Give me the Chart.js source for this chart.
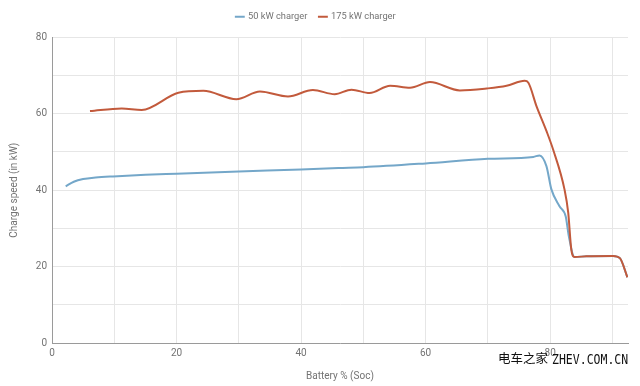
<!DOCTYPE html>
<html>
<head>
<meta charset="utf-8">
<script src="https://cdn.jsdelivr.net/npm/chart.js@4/dist/chart.umd.min.js"></script>
<style>
  html, body { margin: 0; padding: 0; background: #fff; }
  #wrap { position: relative; width: 640px; height: 386px; }
  #wm { position: absolute; left: 498px; top: 348px; color: #111; white-space: nowrap; }
  #wm .cn { font-family: "Noto Sans CJK SC", sans-serif; font-size: 12.5px; }
  #wm .en { font-family: "DejaVu Sans Mono", monospace; font-size: 11.5px; display: inline-block; transform: scaleY(1.2); margin-left: 4px; }
</style>
</head>
<body>
<div id="wrap">
  <canvas id="c" width="640" height="386"></canvas>
  <div id="wm"><span class="cn">电车之家</span><span class="en">ZHEV.COM.CN</span></div>
</div>
<script>
const seriesNames = ["50 kW charger", "175 kW charger"];
const axisTitles = { x: "Battery % (Soc)", y: "Charge speed (in kW)" };

const soc50 = [2.2, 3.5, 5.0, 7.0, 9.8, 15, 20, 30, 40, 46, 50, 60, 70, 77.3, 78.3, 79.4, 80.2, 81.5, 82.5, 83.0, 83.9, 85.8, 90.1, 91.2, 92.4];
const kw50  = [41.0, 42.2, 42.9, 43.3, 43.6, 44.0, 44.3, 44.9, 45.4, 45.8, 46.0, 47.0, 48.2, 48.7, 49.1, 46.3, 40.2, 35.8, 33.1, 27.9, 22.5, 22.7, 22.8, 22.2, 17.2];

const soc175 = [6.1, 11.2, 14.4, 20.3, 24.3, 29.6, 33.4, 37.9, 41.9, 45.4, 48.1, 51.0, 54.3, 57.5, 60.7, 65.5, 69.8, 73.0, 75.9, 76.5, 77.8, 79.4, 80.5, 82.3, 82.9, 83.4, 83.9, 85.8, 90.1, 91.2, 92.4];
const kw175  = [60.7, 61.4, 61.0, 65.5, 66.0, 63.8, 65.8, 64.5, 66.2, 65.1, 66.3, 65.4, 67.3, 66.8, 68.3, 66.1, 66.6, 67.3, 68.6, 68.1, 62.0, 55.5, 50.5, 40.2, 34.1, 24.4, 22.5, 22.7, 22.8, 22.2, 17.2];

const xTicks = [0, 20, 40, 60, 80];
const yTicks = [0, 20, 40, 60, 80];

const toPts = (xs, ys) => xs.map((x, i) => ({ x: x, y: ys[i] }));

const gridColor = "#e6e6e6";
const textColor = "#737373";

const legendSpace = {
  id: "legendSpace",
  beforeLayout(chart) {
    const lg = chart.legend;
    if (lg && !lg._patched) {
      const orig = lg.fit;
      lg.fit = function () { orig.call(this); this.height += 6; };
      lg._patched = true;
    }
  }
};

new Chart(document.getElementById("c"), {
  type: "line",
  data: {
    datasets: [
      { label: seriesNames[0], data: toPts(soc50, kw50), borderColor: "#74a7c9", backgroundColor: "#74a7c9", borderWidth: 2, pointRadius: 0, cubicInterpolationMode: "monotone", order: 2 },
      { label: seriesNames[1], data: toPts(soc175, kw175), borderColor: "#c25a3c", backgroundColor: "#c25a3c", borderWidth: 2, pointRadius: 0, cubicInterpolationMode: "monotone", order: 1 }
    ]
  },
  plugins: [legendSpace],
  options: {
    responsive: false,
    animation: false,
    layout: { padding: { left: 4, right: 12, top: 0, bottom: 0 } },
    plugins: {
      legend: {
        position: "top",
        labels: { usePointStyle: true, pointStyle: "line", boxWidth: 7, boxHeight: 7, font: { family: "Roboto", size: 9.3 }, color: textColor, padding: 12,
          sort: (a, b) => a.datasetIndex - b.datasetIndex }
      },
      tooltip: { enabled: false }
    },
    scales: {
      x: {
        type: "linear", min: 0, max: 92.5,
        ticks: { stepSize: 10, autoSkip: false, color: textColor, font: { family: "Roboto", size: 10 }, maxRotation: 0, padding: 4,
          callback: v => xTicks.includes(v) ? String(v) : "" },
        grid: { color: gridColor, drawTicks: false },
        border: { color: "#9a9a9a", width: 1 },
        title: { display: true, text: axisTitles.x, color: textColor, font: { family: "Roboto", size: 10 }, padding: { top: 14 } },
        afterBuildTicks: s => { s.ticks = [0,10,20,30,40,50,60,70,80,90].map(v => ({ value: v })); },
        afterFit: s => { s.height = 43; }
      },
      y: {
        min: 0, max: 80,
        ticks: { stepSize: 10, color: textColor, font: { family: "Roboto", size: 10 }, padding: 5,
          callback: v => yTicks.includes(v) ? String(v) : "" },
        grid: { color: gridColor, drawTicks: false },
        border: { color: "#9a9a9a", width: 1 },
        title: { display: true, text: axisTitles.y, color: textColor, font: { family: "Roboto", size: 10 } },
        afterFit: s => { s.width = 48; }
      }
    }
  }
});
</script>
</body>
</html>
